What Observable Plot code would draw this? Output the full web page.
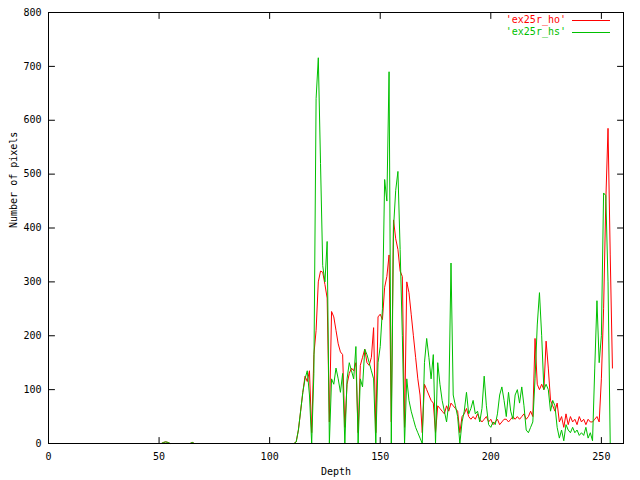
<!DOCTYPE html>
<html><head><meta charset="utf-8">
<script src="https://cdn.jsdelivr.net/npm/d3@7"></script>
<script src="https://cdn.jsdelivr.net/npm/@observablehq/plot@0.6"></script>
<style>body{margin:0;background:#fff}</style>
</head><body><div id="chart"></div>
<script>
const seriesNames = ["'ex25r_ho'", "'ex25r_hs'"];
const seriesColors = ["#ff0000", "#00c000"];
const xTicks = [0, 50, 100, 150, 200, 250];
const yTicks = [0, 100, 200, 300, 400, 500, 600, 700, 800];
const xLabel = "Depth";
const yLabel = "Number of pixels";

const ho = [
0,0,0,0,0,0,0,0,0,0,0,0,0,0,0,0,
0,0,0,0,0,0,0,0,0,0,0,0,0,0,0,0,
0,0,0,0,0,0,0,0,0,0,0,0,0,0,0,0,
0,0,0,0,2,3,2,0,0,0,0,0,0,0,0,0,
0,2,0,0,0,0,0,0,0,0,0,0,0,0,0,0,
0,0,0,0,0,0,0,0,0,0,0,0,0,0,0,0,
0,0,0,0,0,0,0,0,0,0,0,0,0,0,0,0,
3,25,60,95,125,115,135,20,165,210,300,320,318,295,270,40,
245,235,210,185,170,165,30,110,130,140,135,150,20,145,160,175,
150,145,160,215,20,235,240,230,290,310,350,40,415,380,360,320,
310,30,300,280,240,200,160,120,90,20,110,100,90,80,75,20,
70,65,60,55,70,60,75,70,65,60,20,50,55,65,50,45,
50,45,55,45,40,45,50,40,45,35,40,45,35,40,45,45,
40,45,50,45,50,45,50,55,45,50,60,50,195,110,100,110,
100,190,140,80,70,60,75,40,50,30,55,35,50,40,45,35,
50,40,45,35,45,40,40,45,50,40,120,250,450,585,350,140
];
const hs = [
0,0,0,0,0,0,0,0,0,0,0,0,0,0,0,0,
0,0,0,0,0,0,0,0,0,0,0,0,0,0,0,0,
0,0,0,0,0,0,0,0,0,0,0,0,0,0,0,0,
0,0,0,0,2,3,2,0,0,0,0,0,0,0,0,0,
0,2,0,0,0,0,0,0,0,0,0,0,0,0,0,0,
0,0,0,0,0,0,0,0,0,0,0,0,0,0,0,0,
0,0,0,0,0,0,0,0,0,0,0,0,0,0,0,0,
3,25,60,95,120,135,90,0,130,640,716,520,330,300,375,0,
120,110,140,120,95,130,0,120,150,135,120,180,0,120,105,175,
165,150,135,120,0,150,180,250,490,450,690,0,400,470,505,360,
200,0,120,80,60,45,30,20,10,0,150,195,160,120,165,0,
150,110,80,60,40,75,335,90,70,50,0,40,60,95,55,65,
80,55,60,40,65,125,70,35,30,40,35,55,90,105,80,50,
95,60,45,90,100,75,105,70,25,20,30,40,120,220,280,200,
100,110,100,60,80,70,30,10,25,5,35,25,20,30,20,25,
15,20,15,30,10,20,5,140,265,150,200,465,460,300,0,0
];

const data = [];
ho.forEach((v, i) => data.push({depth: i, value: v, series: seriesNames[0]}));
hs.forEach((v, i) => data.push({depth: i, value: v, series: seriesNames[1]}));

const tickShape = {draw(ctx, l) { ctx.moveTo(0, 0); ctx.lineTo(0, -l); }};
const tk = (arr, o) => Plot.vector(arr, {length: 6, anchor: "start", shape: tickShape, stroke: "#000", strokeWidth: 1, ...o});

const plot = Plot.plot({
  width: 640, height: 480,
  marginLeft: 48, marginRight: 17, marginTop: 12, marginBottom: 37,
  style: {fontFamily: "'DejaVu Sans Mono', monospace", fontSize: "10px", background: "#fff", color: "#000"},
  x: {domain: [0, 260]},
  y: {domain: [0, 800]},
  color: {domain: seriesNames, range: seriesColors},
  marks: [
    Plot.line(data, {x: "depth", y: "value", z: "series", stroke: "series", strokeWidth: 1}),
    Plot.frame({stroke: "#000"}),
    tk(xTicks, {x: d => d, y: 0, rotate: 0}),
    tk(xTicks, {x: d => d, y: 800, rotate: 180}),
    tk(yTicks, {x: 0, y: d => d, rotate: 90}),
    tk(yTicks, {x: 260, y: d => d, rotate: -90}),
    Plot.axisX({ticks: xTicks, tickSize: 0, tickPadding: 9, label: null, fill: "#000"}),
    Plot.axisY({ticks: yTicks, tickSize: 0, tickPadding: 7, label: null, fill: "#000"}),
    Plot.text([xLabel], {frameAnchor: "bottom", dy: 31, fill: "#000"}),
    Plot.text([yLabel], {frameAnchor: "left", dx: -35, rotate: -90, fill: "#000"})
  ]
});
document.getElementById("chart").appendChild(plot);

const svg = d3.select(plot);
seriesNames.forEach((name, i) => {
  const y = 20 + i * 12;
  svg.append("text").attr("x", 566).attr("y", y).attr("dy", "0.32em")
    .attr("text-anchor", "end").attr("fill", seriesColors[i])
    .attr("font-family", "'DejaVu Sans Mono', monospace").attr("font-size", 10).text(name);
  svg.append("line").attr("x1", 572).attr("x2", 610).attr("y1", y + 0.5).attr("y2", y + 0.5)
    .attr("stroke", seriesColors[i]).attr("stroke-width", 1);
});
</script>
</body></html>
